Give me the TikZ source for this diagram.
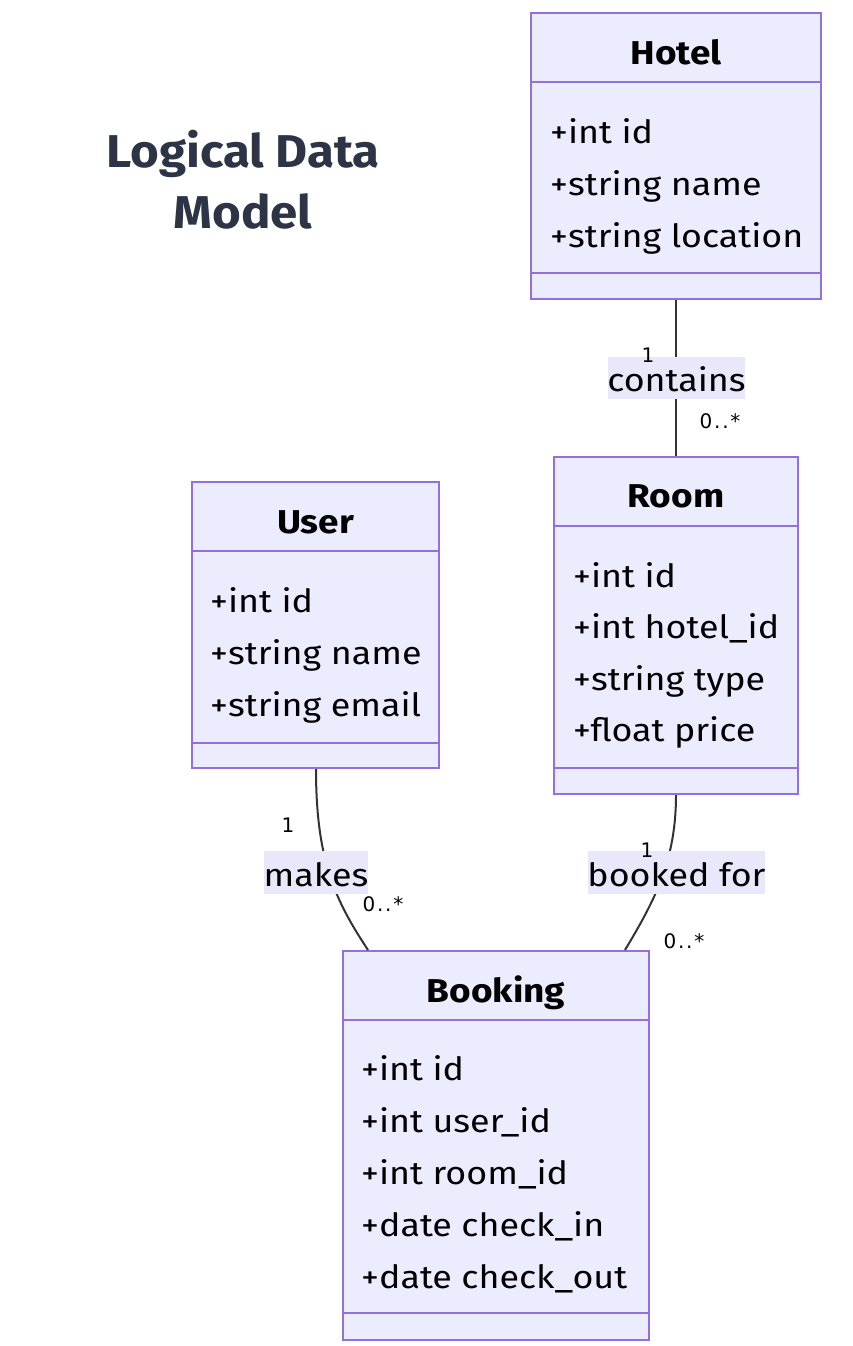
\documentclass[tikz,border=0pt]{standalone}
\usepackage{fontspec}
\setmainfont{Fira Sans}[FakeStretch=1.12]
\newfontfamily\titlefont{Fira Sans}[FakeStretch=1.07]
\newfontfamily\multfont{DejaVu Sans}[LetterSpace=9]
\definecolor{boxfill}{HTML}{ECECFF}
\definecolor{boxline}{HTML}{9370DB}
\definecolor{edgecol}{HTML}{333333}
\definecolor{titlecol}{HTML}{2D3446}
\definecolor{lblbg}{HTML}{E8E8FA}
\tikzset{
  classbox/.style={draw=boxline, fill=boxfill, line width=2pt, inner sep=0pt},
  divider/.style={draw=boxline, line width=2pt},
  ctitle/.style={anchor=base, inner sep=0pt, font=\fontsize{33}{38}\selectfont\bfseries},
  attr/.style={anchor=base west, inner sep=0pt, font=\fontsize{32}{36}\selectfont},
  edge/.style={draw=edgecol, line width=2pt},
  elabel/.style={fill=lblbg, inner sep=0pt},
  ltext/.style={anchor=base, inner sep=0pt, font=\fontsize{32}{36}\selectfont},
  mult/.style={anchor=base, inner sep=0pt, font=\multfont\fontsize{20}{24}\selectfont},
  ttl/.style={anchor=base, inner sep=0pt, text=titlecol, font=\titlefont\fontsize{46}{52}\selectfont\bfseries},
}
\begin{document}
\begin{tikzpicture}[x=1pt,y=-1pt]
\useasboundingbox (0,0) rectangle (852,1346);

% Title
\node[ttl] (t1) at (243,167) {Logical Data};
\node[ttl] (t2) at (243,228) {Model};

% Hotel
\node[classbox, minimum width=290pt, minimum height=286pt] (hotel) at (676,156) {};
\draw[divider] (531,82) -- (821,82);
\draw[divider] (531,273) -- (821,273);
\node[ctitle] (hoteltitle) at (676,65) {Hotel};
\node[attr] (h1) at (550,143) {+int id};
\node[attr] (h2) at (550,195) {+string name};
\node[attr] (h3) at (550,247) {+string location};

% Room
\node[classbox, minimum width=244pt, minimum height=337pt] (room) at (676,625.5) {};
\draw[divider] (554,526) -- (798,526);
\draw[divider] (554,768) -- (798,768);
\node[ctitle] (roomtitle) at (676,507) {Room};
\node[attr] (r1) at (573,587) {+int id};
\node[attr] (r2) at (573,638) {+int hotel\_id};
\node[attr] (r3) at (573,690) {+string type};
\node[attr] (r4) at (573,741) {+float price};

% User
\node[classbox, minimum width=247pt, minimum height=286pt] (user) at (315.5,625) {};
\draw[divider] (192,551) -- (439,551);
\draw[divider] (192,743) -- (439,743);
\node[ctitle] (usertitle) at (315.5,533) {User};
\node[attr] (u1) at (210,612) {+int id};
\node[attr] (u2) at (210,664) {+string name};
\node[attr] (u3) at (210,716) {+string email};

% Booking
\node[classbox, minimum width=306pt, minimum height=389pt] (booking) at (496,1145.5) {};
\draw[divider] (343,1020) -- (649,1020);
\draw[divider] (343,1313) -- (649,1313);
\node[ctitle] (bookingtitle) at (496,1002) {Booking};
\node[attr] (b1) at (361,1080) {+int id};
\node[attr] (b2) at (361,1132) {+int user\_id};
\node[attr] (b3) at (361,1184) {+int room\_id};
\node[attr] (b4) at (361,1236) {+date check\_in};
\node[attr] (b5) at (361,1288) {+date check\_out};

% Edges
\coordinate (bkL) at (368,950);
\coordinate (bkR) at (625,950);
\coordinate (userS) at (316,769);
\coordinate (roomS) at (676,795);
\draw[edge] (hotel.south) -- (room.north);
\draw[edge] (userS) .. controls (316,860) and (335,900) .. (bkL);
\draw[edge] (roomS) .. controls (676,860) and (655,900) .. (bkR);

% Edge labels
\node[elabel, minimum width=137pt, minimum height=42pt] (lcontains) at (676.5,378) {};
\node[ltext] (tcontains) at (676.5,391) {contains};
\node[elabel, minimum width=104pt, minimum height=43pt] (lmakes) at (316,872.5) {};
\node[ltext] (tmakes) at (316,886) {makes};
\node[elabel, minimum width=177pt, minimum height=43pt] (lbooked) at (676.5,872.5) {};
\node[ltext] (tbooked) at (676.5,886) {booked for};

% Multiplicities
\node[mult] (m1) at (648,362) {1};
\node[mult] (m2) at (720,428) {0..*};
\node[mult] (m3) at (288,832) {1};
\node[mult] (m4) at (383,911) {0..*};
\node[mult] (m5) at (647,857) {1};
\node[mult] (m6) at (684,948) {0..*};
\end{tikzpicture}
\end{document}
